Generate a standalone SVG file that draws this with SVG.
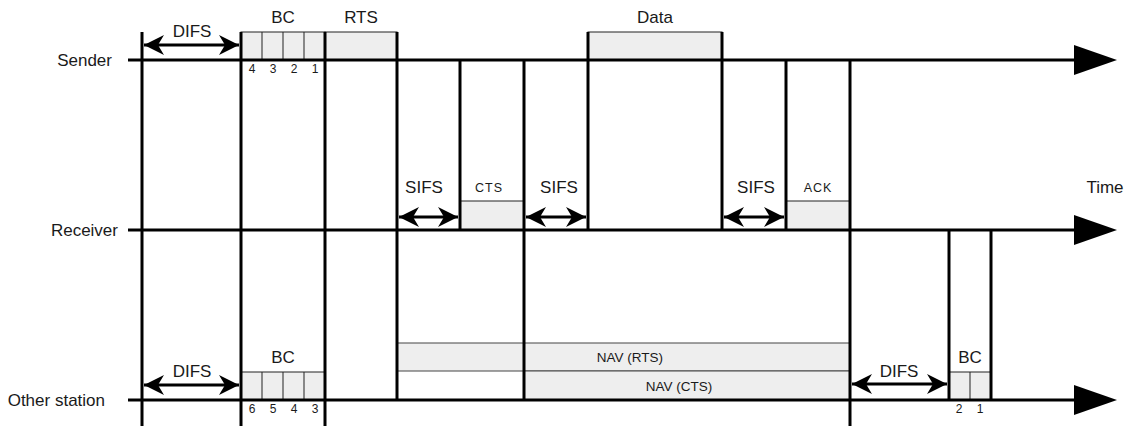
<svg xmlns="http://www.w3.org/2000/svg" width="1129" height="426" viewBox="0 0 1129 426">
<style>
text{font-family:"Liberation Sans",Arial,sans-serif;fill:#1a1a1a}
.lbl{font-size:17px;text-anchor:middle}
.row{font-size:17px;text-anchor:end}
.sm{font-size:12.5px;text-anchor:middle;letter-spacing:1px}
.nv{font-size:13.5px;text-anchor:middle}
.dg{font-size:12px;text-anchor:middle}
.ax{stroke:#000;stroke-width:3;fill:none}
.vl{stroke:#000;stroke-width:3;fill:none}
.bx{fill:#eeeeee;stroke:#222;stroke-width:1}
.dv{stroke:#222;stroke-width:1}
.nav{fill:#eeeeee;stroke:#444;stroke-width:1}
.dbl{stroke:#000;stroke-width:3;fill:none;marker-start:url(#ah);marker-end:url(#ah)}
</style>
<defs>
<marker id="ah" markerUnits="userSpaceOnUse" viewBox="0 0 22 22" refX="21" refY="11" markerWidth="22" markerHeight="22" orient="auto-start-reverse">
<path d="M21,11 L1,1 L7,11 L1,21 Z" fill="#000"/>
</marker>
<marker id="tri" markerUnits="userSpaceOnUse" viewBox="0 0 44 32" refX="2" refY="16" markerWidth="44" markerHeight="32" orient="auto">
<path d="M0,1 L43,16 L0,31 Z" fill="#000"/>
</marker>
</defs>

<g id="row-labels">
<text class="row" x="112" y="66">Sender</text>
<text class="row" x="118" y="236">Receiver</text>
<text class="row" x="105" y="406">Other station</text>
<text class="lbl" x="1105" y="193">Time</text>
</g>

<g id="boxes">
<g id="bc-sender">
<rect class="bx" x="241" y="32" width="84" height="28"/>
<line class="dv" x1="262" y1="32" x2="262" y2="60"/>
<line class="dv" x1="283" y1="32" x2="283" y2="60"/>
<line class="dv" x1="304" y1="32" x2="304" y2="60"/>
<text class="lbl" x="283" y="23">BC</text>
<text class="dg" x="252" y="73">4</text>
<text class="dg" x="273" y="73">3</text>
<text class="dg" x="294" y="73">2</text>
<text class="dg" x="315" y="73">1</text>
</g>
<g id="rts">
<rect class="bx" x="325" y="32" width="72" height="28"/>
<text class="lbl" x="361" y="23">RTS</text>
</g>
<g id="data">
<rect class="bx" x="588" y="32" width="134" height="28"/>
<text class="lbl" x="655" y="23">Data</text>
</g>
<g id="cts">
<rect class="bx" x="460" y="201" width="64" height="29"/>
<text class="sm" x="489" y="192">CTS</text>
</g>
<g id="ack">
<rect class="bx" x="786" y="201" width="64" height="29"/>
<text class="sm" x="818" y="192">ACK</text>
</g>
<g id="nav-rts">
<rect class="nav" x="397" y="343" width="453" height="28"/>
<text class="nv" x="630" y="362">NAV (RTS)</text>
</g>
<g id="nav-cts">
<rect class="nav" x="524" y="371" width="326" height="29"/>
<text class="nv" x="679" y="391">NAV (CTS)</text>
</g>
<g id="bc-other">
<rect class="bx" x="241" y="372" width="84" height="28"/>
<line class="dv" x1="262" y1="372" x2="262" y2="400"/>
<line class="dv" x1="283" y1="372" x2="283" y2="400"/>
<line class="dv" x1="304" y1="372" x2="304" y2="400"/>
<text class="lbl" x="283" y="363">BC</text>
<text class="dg" x="252" y="413">6</text>
<text class="dg" x="273" y="413">5</text>
<text class="dg" x="294" y="413">4</text>
<text class="dg" x="315" y="413">3</text>
</g>
<g id="bc-end">
<rect class="bx" x="949" y="372" width="42" height="28"/>
<line class="dv" x1="970" y1="372" x2="970" y2="400"/>
<text class="lbl" x="970" y="363">BC</text>
<text class="dg" x="959" y="413">2</text>
<text class="dg" x="980" y="413">1</text>
</g>
</g>

<g id="connectors">
<line class="ax" x1="128" y1="60" x2="1076" y2="60" marker-end="url(#tri)"/>
<line class="ax" x1="128" y1="230" x2="1076" y2="230" marker-end="url(#tri)"/>
<line class="ax" x1="128" y1="400" x2="1076" y2="400" marker-end="url(#tri)"/>

<line class="vl" x1="142" y1="32" x2="142" y2="426"/>
<line class="vl" x1="241" y1="32" x2="241" y2="426"/>
<line class="vl" x1="325" y1="32" x2="325" y2="426"/>
<line class="vl" x1="397" y1="32" x2="397" y2="400"/>
<line class="vl" x1="460" y1="60" x2="460" y2="230"/>
<line class="vl" x1="524" y1="60" x2="524" y2="400"/>
<line class="vl" x1="588" y1="32" x2="588" y2="230"/>
<line class="vl" x1="722" y1="32" x2="722" y2="230"/>
<line class="vl" x1="786" y1="60" x2="786" y2="230"/>
<line class="vl" x1="850" y1="60" x2="850" y2="426"/>
<line class="vl" x1="949" y1="230" x2="949" y2="400"/>
<line class="vl" x1="991" y1="230" x2="991" y2="400"/>

<line class="dbl" x1="144" y1="45" x2="239" y2="45"/>
<line class="dbl" x1="399" y1="217" x2="458" y2="217"/>
<line class="dbl" x1="526" y1="217" x2="586" y2="217"/>
<line class="dbl" x1="724" y1="217" x2="784" y2="217"/>
<line class="dbl" x1="144" y1="385" x2="239" y2="385"/>
<line class="dbl" x1="852" y1="384" x2="947" y2="384"/>
</g>

<g id="interval-labels">
<text class="lbl" x="192" y="37">DIFS</text>
<text class="lbl" x="424" y="193">SIFS</text>
<text class="lbl" x="559" y="193">SIFS</text>
<text class="lbl" x="756" y="193">SIFS</text>
<text class="lbl" x="192" y="377">DIFS</text>
<text class="lbl" x="899" y="377">DIFS</text>
</g>
</svg>
